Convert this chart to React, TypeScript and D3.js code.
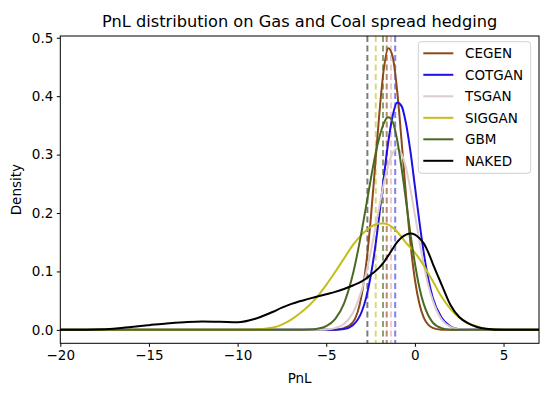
import * as d3 from "d3";
import { useEffect, useRef } from "react";

// shared PnL grid the densities were read at
const pnlGrid = [
  -20, -19, -18, -17, -16, -15, -14, -13, -12, -11, -10, -9, -8, -7.5, -7, -6.5,
  -6, -5.5, -5, -4.5, -4, -3.5, -3, -2.75, -2.5, -2.25, -2, -1.75, -1.5, -1.25,
  -1, -0.75, -0.5, -0.25, 0, 0.25, 0.5, 0.75, 1, 1.5, 2, 2.5, 3, 3.5, 4, 5, 6, 7,
];

const cegen = [
  0, 0, 0, 0, 0, 0, 0, 0, 0, 0, 0, 0, 0, 0, 0, 0, 0, 0, 0,
  0.0004, 0.003, 0.013, 0.06, 0.112, 0.186, 0.278, 0.372, 0.447, 0.482, 0.467,
  0.409, 0.323, 0.23, 0.148, 0.086, 0.045, 0.021, 0.009, 0.0035, 0.0004,
  0, 0, 0, 0, 0, 0, 0, 0,
];

const cotgan = [
  0, 0, 0, 0, 0, 0, 0, 0, 0, 0, 0, 0, 0, 0, 0, 0, 0, 0, 0,
  0.0002, 0.0015, 0.008, 0.031, 0.055, 0.091, 0.139, 0.198, 0.262, 0.322, 0.367,
  0.389, 0.383, 0.353, 0.305, 0.246, 0.186, 0.132, 0.088, 0.056, 0.021, 0.006,
  0.001, 0, 0, 0, 0, 0, 0,
];

const tsgan = [
  0, 0, 0, 0, 0, 0, 0, 0, 0, 0, 0, 0, 0, 0, 0, 0, 0, 0,
  0.0007, 0.003, 0.01, 0.029, 0.068, 0.097, 0.132, 0.172, 0.212, 0.251, 0.282,
  0.303, 0.31, 0.301, 0.277, 0.24, 0.197, 0.153, 0.112, 0.077, 0.051, 0.018,
  0.005, 0.0012, 0.0002, 0, 0, 0, 0, 0,
];

const siggan = [
  0, 0, 0, 0, 0, 0, 0, 0, 0, 0, 0,
  0.0005, 0.004, 0.009, 0.017, 0.028, 0.041, 0.057, 0.077, 0.099, 0.122, 0.145,
  0.163, 0.17, 0.176, 0.18, 0.182, 0.182, 0.18, 0.175, 0.168, 0.159, 0.149,
  0.141, 0.132, 0.122, 0.11, 0.097, 0.084, 0.057, 0.036, 0.021, 0.012, 0.006,
  0.002, 0, 0, 0,
];

const gbm = [
  0, 0, 0, 0, 0, 0, 0, 0, 0, 0, 0, 0, 0, 0, 0, 0,
  0.0005, 0.002, 0.0065, 0.0185, 0.045, 0.095, 0.169, 0.212, 0.256, 0.297,
  0.33, 0.354, 0.364, 0.356, 0.325, 0.277, 0.221, 0.164, 0.114, 0.073, 0.044,
  0.025, 0.013, 0.003, 0.0004, 0, 0, 0, 0, 0, 0, 0,
];

const naked = [
  0, 0, 0.0005, 0.002, 0.005, 0.008, 0.011, 0.013, 0.0142, 0.0138, 0.013, 0.019,
  0.031, 0.038, 0.044, 0.049, 0.053, 0.057, 0.061, 0.065, 0.07, 0.076, 0.083,
  0.088, 0.094, 0.1, 0.107, 0.116, 0.127, 0.139, 0.15, 0.158, 0.163, 0.165,
  0.163, 0.157, 0.148, 0.133, 0.114, 0.078, 0.043, 0.022, 0.011, 0.005, 0.002,
  0, 0, 0,
];

const seriesNames = ["CEGEN", "COTGAN", "TSGAN", "SIGGAN", "GBM", "NAKED"];
const seriesColors = ["#8b4a1c", "#1f0fe8", "#dccccc", "#c4bd1c", "#4a6a22", "#000000"];
// dashed markers, one per model
const markerValues = [-1.59, -1.11, -1.35, -2.21, -1.8, -2.68];
const markerColors = ["#b48a6a", "#8080f0", "#f0c8d0", "#dcd87a", "#8fa070", "#7a7a7a"];

const xTicks = [-20, -15, -10, -5, 0, 5];
const yTicks = [0, 0.1, 0.2, 0.3, 0.4, 0.5];

const App = () => {
  const ref = useRef<SVGSVGElement | null>(null);

  useEffect(() => {
    const svg = d3.select(ref.current);
    svg.selectAll("*").remove();

    const width = 550;
    const height = 398;
    const margin = { top: 36, right: 11, bottom: 54.7, left: 60.3 };
    const chartWidth = width - margin.left - margin.right;
    const chartHeight = height - margin.top - margin.bottom;
    const font = "DejaVu Sans, sans-serif";

    const x = d3.scaleLinear().domain([-20, 7]).range([0, chartWidth]);
    const y = d3.scaleLinear().domain([-0.023, 0.503]).range([chartHeight, 0]);

    const g = svg
      .append("g")
      .attr("transform", `translate(${margin.left}, ${margin.top})`);

    g.append("defs")
      .append("clipPath")
      .attr("id", "plot-clip")
      .append("rect")
      .attr("width", chartWidth)
      .attr("height", chartHeight);

    const plot = g.append("g").attr("clip-path", "url(#plot-clip)");

    // dashed vertical markers
    plot
      .selectAll("line.marker")
      .data(markerValues)
      .enter()
      .append("line")
      .attr("class", "marker")
      .attr("x1", (d) => x(d))
      .attr("x2", (d) => x(d))
      .attr("y1", 0)
      .attr("y2", chartHeight)
      .attr("stroke", (_, i) => markerColors[i])
      .attr("stroke-width", 2)
      .attr("stroke-dasharray", "6,3.5");

    const allSeries = [cegen, cotgan, tsgan, siggan, gbm, naked];
    const line = d3
      .line<number>()
      .x((_, i) => x(pnlGrid[i]))
      .y((d) => y(d))
      .curve(d3.curveMonotoneX);

    plot
      .selectAll("path.density")
      .data(allSeries)
      .enter()
      .append("path")
      .attr("class", "density")
      .attr("d", (d) => line(d))
      .attr("fill", "none")
      .attr("stroke", (_, i) => seriesColors[i])
      .attr("stroke-width", 2);

    // axes
    const xAxis = g
      .append("g")
      .attr("transform", `translate(0, ${chartHeight})`)
      .call(d3.axisBottom(x).tickValues(xTicks).tickSize(3.5).tickPadding(3.5));
    const yAxis = g
      .append("g")
      .call(
        d3
          .axisLeft(y)
          .tickValues(yTicks)
          .tickSize(3.5)
          .tickPadding(3.5)
          .tickFormat(d3.format(".1f"))
      );
    [xAxis, yAxis].forEach((ax) => {
      ax.select(".domain").remove();
      ax.selectAll("line").attr("stroke", "#000").attr("stroke-width", 1);
      ax.selectAll("text")
        .style("font-size", "13.5px")
        .style("font-family", font)
        .style("fill", "#000");
    });

    g.append("rect")
      .attr("width", chartWidth)
      .attr("height", chartHeight)
      .attr("fill", "none")
      .attr("stroke", "#000")
      .attr("stroke-width", 1);

    // legend
    const legend = g.append("g").attr("transform", `translate(${418.3 - margin.left}, ${41.7 - margin.top})`);
    legend
      .append("rect")
      .attr("width", 112.4)
      .attr("height", 131.6)
      .attr("rx", 3)
      .attr("fill", "#fff")
      .attr("fill-opacity", 0.8)
      .attr("stroke", "#d0d0d0");
    seriesNames.forEach((name, i) => {
      const cy = 11.6 + i * 21.5;
      legend
        .append("line")
        .attr("x1", 5)
        .attr("x2", 35)
        .attr("y1", cy)
        .attr("y2", cy)
        .attr("stroke", seriesColors[i])
        .attr("stroke-width", 2);
      legend
        .append("text")
        .attr("x", 46.7)
        .attr("y", cy + 4.8)
        .style("font-size", "13.5px")
        .style("font-family", font)
        .text(name);
    });

    // labels
    svg
      .append("text")
      .attr("x", margin.left + chartWidth / 2)
      .attr("y", 27)
      .style("text-anchor", "middle")
      .style("font-size", "16.2px")
      .style("font-family", font)
      .text("PnL distribution on Gas and Coal spread hedging");

    svg
      .append("text")
      .attr("x", margin.left + chartWidth / 2)
      .attr("y", 383)
      .style("text-anchor", "middle")
      .style("font-size", "13.5px")
      .style("font-family", font)
      .text("PnL");

    svg
      .append("text")
      .attr("transform", "rotate(-90)")
      .attr("x", -(margin.top + chartHeight / 2))
      .attr("y", 21)
      .style("text-anchor", "middle")
      .style("font-size", "13.5px")
      .style("font-family", font)
      .text("Density");
  }, []);

  return (
    <svg
      ref={ref}
      width={550}
      height={398}
      style={{ position: "absolute", left: 0, top: 0, background: "#fff" }}
    ></svg>
  );
};

export default App;
